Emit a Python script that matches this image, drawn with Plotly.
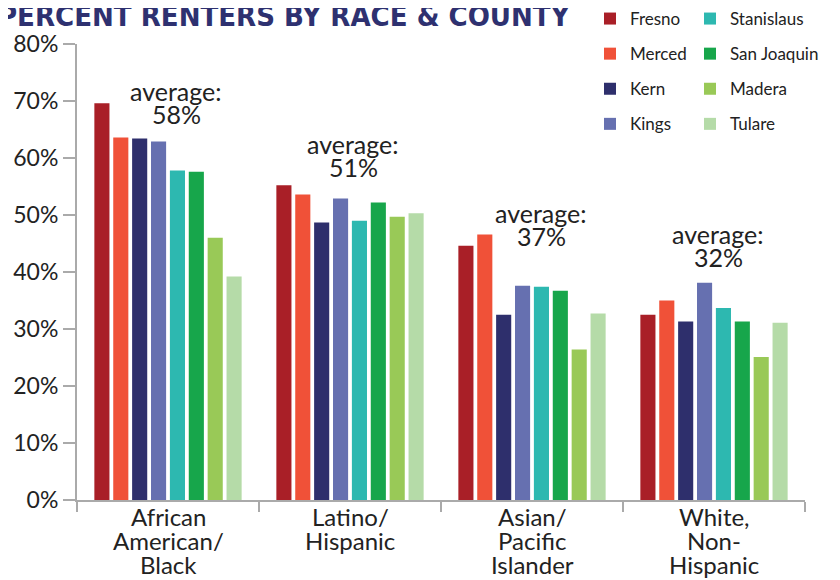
import plotly.graph_objects as go

categories = ["African<br>American/<br>Black", "Latino/<br>Hispanic", "Asian/<br>Pacific<br>Islander", "White,<br>Non-<br>Hispanic"]
counties = ["Fresno", "Merced", "Kern", "Kings", "Stanislaus", "San Joaquin", "Madera", "Tulare"]
colors = ["#a91f27", "#f05138", "#2e2f6c", "#6670b0", "#2db8b0", "#17a64b", "#99c957", "#b5dba8"]

fresno = [69.6, 55.2, 44.6, 32.5]
merced = [63.6, 53.6, 46.6, 35.0]
kern = [63.4, 48.7, 32.5, 31.3]
kings = [62.9, 52.9, 37.6, 38.1]
stanislaus = [57.8, 49.0, 37.4, 33.7]
san_joaquin = [57.6, 52.2, 36.7, 31.3]
madera = [46.0, 49.7, 26.4, 25.1]
tulare = [39.2, 50.3, 32.7, 31.1]
averages = [58, 51, 37, 32]

series = [fresno, merced, kern, kings, stanislaus, san_joaquin, madera, tulare]

FONT = "Lato, 'Open Sans', sans-serif"
TXT = "#222222"

fig = go.Figure()
for i, (name, vals, col) in enumerate(zip(counties, series, colors)):
    fig.add_trace(go.Bar(
        x=categories, y=vals, name=name, marker_color=col,
        marker_line_width=0,
        legend="legend" if i < 4 else "legend2",
        legendgroup=name,
    ))

# category labels (tight leading, one annotation per line)
for c in categories:
    for j, line in enumerate(c.split("<br>")):
        fig.add_annotation(x=c, y=0, xref="x", yref="y", text=line, showarrow=False,
                           yanchor="middle", yshift=-16 - 24 * j, borderpad=0,
                           font=dict(family=FONT, size=24, color=TXT))

# average annotations
ann_y = [67.7, 58.4, 46.3, 42.7]
ann_shift = [8, 3, 9, 4]
for c, a, yy, sh in zip(categories, averages, ann_y, ann_shift):
    fig.add_annotation(x=c, y=yy, xref="x", yref="y", text="average:",
                       showarrow=False, yanchor="middle", xshift=sh, yshift=23, borderpad=0,
                       font=dict(family=FONT, size=25, color=TXT))
    fig.add_annotation(x=c, y=yy, xref="x", yref="y", text=f"{a}%",
                       showarrow=False, yanchor="middle", xshift=sh, borderpad=0,
                       font=dict(family=FONT, size=25, color=TXT))

# title (cropped at top like reference)
fig.add_annotation(xref="paper", yref="paper", x=-0.1113, y=1 + (36 - 8) / 456,
                   xanchor="left", yanchor="middle",
                   text="<b>PERCENT RENTERS BY RACE &amp; COUNTY</b>", showarrow=False,
                   font=dict(family="'DejaVu Sans Condensed', 'Liberation Sans Narrow', 'Open Sans', sans-serif",
                             size=29, color="#2e3170"))

legend_common = dict(
    orientation="v", xanchor="left", yanchor="top", yref="paper", xref="container",
    font=dict(family=FONT, size=17, color=TXT),
    tracegroupgap=10, itemwidth=30, bgcolor="rgba(0,0,0,0)",
    itemclick=False,
)

fig.update_layout(
    width=832, height=572,
    margin=dict(l=69, r=35, t=36, b=80, autoexpand=False),
    plot_bgcolor="white", paper_bgcolor="white",
    barmode="group", bargap=0.17, bargroupgap=0.2,
    showlegend=True,
    legend=dict(**legend_common, x=582 / 832, y=1 + 43 / 456),
    legend2=dict(**legend_common, x=682 / 832, y=1 + 43 / 456),
    yaxis=dict(range=[0, 80], dtick=10, ticksuffix="%", showgrid=False, zeroline=False,
               showline=True, linecolor="#aaaaaa", linewidth=2,
               ticks="outside", ticklen=12, tickcolor="#aaaaaa", tickwidth=2,
               tickfont=dict(family=FONT, size=23, color=TXT)),
    xaxis=dict(showgrid=False, showline=True, linecolor="#aaaaaa", linewidth=2,
               ticks="outside", tickson="boundaries", ticklen=10, tickcolor="#aaaaaa", tickwidth=2,
               showticklabels=False),
)

fig.write_html("out.html")
